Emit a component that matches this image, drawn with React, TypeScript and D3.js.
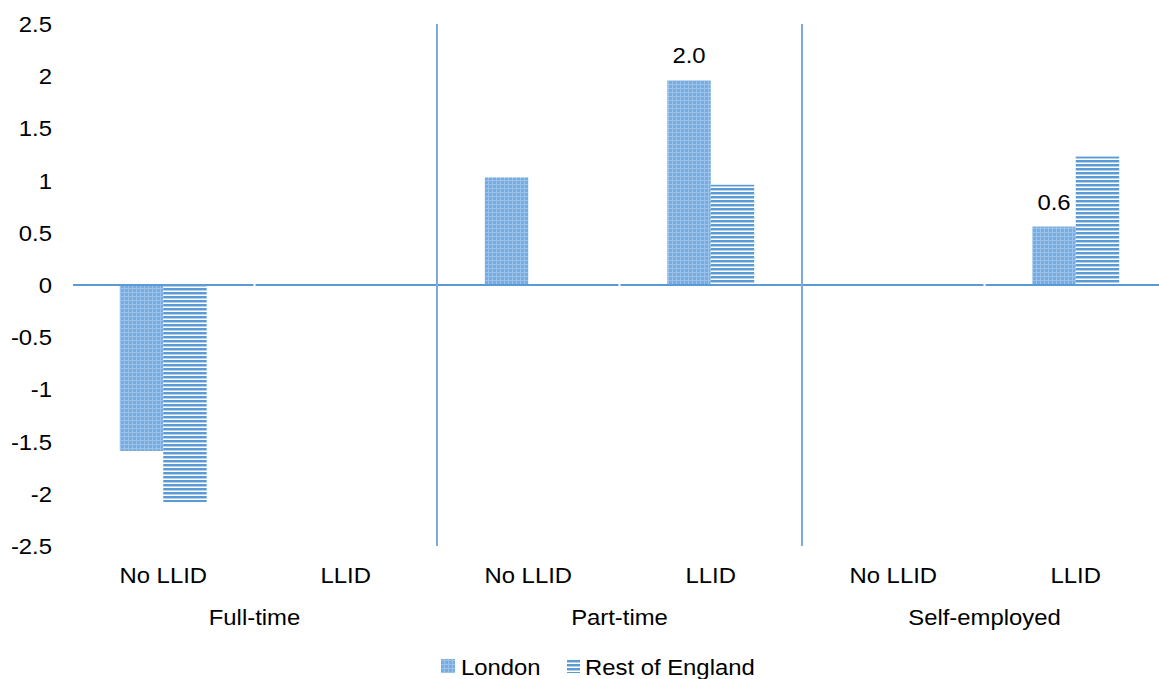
import React from "react";
import * as d3 from "d3";

const groups = ["Full-time", "Part-time", "Self-employed"];
const subCategories = ["No LLID", "LLID"];
const seriesNames = ["London", "Rest of England"];
const londonValues = [-1.59, 0, 1.03, 1.96, 0, 0.56];
const restValues = [-2.08, 0, 0, 0.96, 0, 1.23];
const dataLabels: (string | null)[][] = [
  [null, null, null, "2.0", null, "0.6"],
  [null, null, null, null, null, null],
];
const yTicks = [2.5, 2, 1.5, 1, 0.5, 0, -0.5, -1, -1.5, -2, -2.5];

const W = 1159;
const H = 679;
const left = 72;
const right = 1167;
const top = 24;
const bottom = 546;
const FONT = "'Liberation Sans', Arial, sans-serif";
const BLUE = "#5B9BD5";
const FS = 22;
const SX = 1.085;

function T({ x, y, anchor, children, size = FS }: { x: number; y: number; anchor?: string; children: any; size?: number }) {
  return (
    <g transform={`translate(${x},${y}) scale(${SX},1)`}>
      <text x={0} y={0} textAnchor={anchor || "start"} fontSize={size} fill="#000">
        {children}
      </text>
    </g>
  );
}

export default function App() {
  const cats: string[] = [];
  groups.forEach((g) => subCategories.forEach((s) => cats.push(g + "|" + s)));
  const x = d3.scaleBand<string>().domain(cats).range([left, right]).paddingInner(0).paddingOuter(0);
  const y = d3.scaleLinear().domain([-2.5, 2.5]).range([bottom, top]);
  const inner = d3.scaleBand<number>().domain([0, 1]).range([0, x.bandwidth()]).paddingInner(0).paddingOuter(1.1);
  const series = [londonValues, restValues];
  const fills = ["url(#patLondon)", "url(#patRest)"];
  const groupWidth = x.bandwidth() * subCategories.length;

  return (
    <svg width={W} height={H} style={{ position: "absolute", left: 0, top: 0 }} fontFamily={FONT}>
      <defs>
        <pattern id="patLondon" width="4" height="4" patternUnits="userSpaceOnUse">
          <rect width="4" height="4" fill="#76ACDF" />
          <rect x="0" y="0" width="4" height="1" fill="#9AC2EA" />
          <rect x="0" y="0" width="1" height="4" fill="#9AC2EA" />
        </pattern>
        <pattern id="patRest" width="4" height="4" patternUnits="userSpaceOnUse">
          <rect width="4" height="4" fill="#ffffff" />
          <rect x="0" y="0" width="4" height="2" fill={BLUE} />
          <rect x="0" y="2" width="4" height="1" fill="#B5D1EE" />
        </pattern>
      </defs>
      <rect width={W} height={H} fill="#fff" />
      {yTicks.map((t) => (
        <T key={t} x={52} y={y(t) + 8} anchor="end">
          {String(t)}
        </T>
      ))}
      {groups.slice(1).map((g, i) => {
        const xx = left + groupWidth * (i + 1);
        return <line key={g} x1={xx} x2={xx} y1={top} y2={bottom} stroke="#7FA9DA" strokeWidth={2} />;
      })}
      {cats.map((c, ci) =>
        series.map((vals, si) => {
          const v = vals[ci];
          if (v === 0) return null;
          const bx = (x(c) as number) + (inner(si) as number);
          const y0 = y(0);
          const y1 = y(v);
          return (
            <rect
              key={c + si}
              x={bx}
              y={Math.min(y0, y1)}
              width={inner.bandwidth()}
              height={Math.abs(y1 - y0)}
              fill={fills[si]}
            />
          );
        })
      )}
      {cats.map((c) => (
        <line
          key={"ax" + c}
          x1={(x(c) as number) + 1}
          x2={(x(c) as number) + x.bandwidth() - 1}
          y1={y(0)}
          y2={y(0)}
          stroke={BLUE}
          strokeWidth={2}
        />
      ))}
      {cats.map((c, ci) =>
        series.map((vals, si) => {
          const lab = dataLabels[si][ci];
          if (!lab) return null;
          const bx = (x(c) as number) + (inner(si) as number) + inner.bandwidth() / 2;
          return (
            <T key={"l" + c + si} x={bx} y={y(vals[ci]) - 17} anchor="middle">
              {lab}
            </T>
          );
        })
      )}
      {cats.map((c) => (
        <T key={"xl" + c} x={(x(c) as number) + x.bandwidth() / 2} y={583} anchor="middle">
          {c.split("|")[1]}
        </T>
      ))}
      {groups.map((g, i) => (
        <T key={"g" + g} x={left + groupWidth * i + groupWidth / 2} y={625} anchor="middle">
          {g}
        </T>
      ))}
      <rect x={441} y={659} width={14} height={14} fill="url(#patLondon)" />
      <T x={461} y={675}>{seriesNames[0]}</T>
      <rect x={567} y={659} width={13} height={14} fill="url(#patRest)" />
      <T x={585} y={675}>{seriesNames[1]}</T>
    </svg>
  );
}
